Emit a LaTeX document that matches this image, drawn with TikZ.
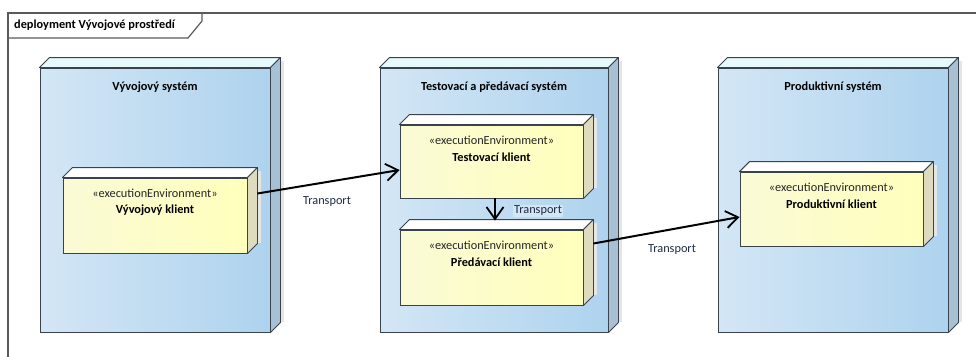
\documentclass[tikz,border=0pt]{standalone}
\usepackage{fontspec}
\setmainfont{Carlito}
\usetikzlibrary{calc,arrows.meta}

\definecolor{framecol}{HTML}{5A5A5A}
\definecolor{edgecol}{HTML}{3A434C}
\definecolor{sysL}{HTML}{D3E6F5}
\definecolor{sysR}{HTML}{AED3EE}
\definecolor{sysTop}{HTML}{E6FAFC}
\definecolor{sysSide}{HTML}{A8C0D3}
\definecolor{envL}{HTML}{FAFAD6}
\definecolor{envR}{HTML}{FFFFBC}
\definecolor{envTop}{HTML}{FFFFFF}
\definecolor{envSide}{HTML}{DEDBBE}
\definecolor{lblbg}{HTML}{D3E6F4}
\definecolor{lbltext}{HTML}{1E2A44}

% top and side faces of a 3D box whose front face is the node #1
\newcommand\boxfaces[4]{%
  \fill[black!10] ($(#1.north east)+(#2+1,-#2+3)$) rectangle ($(#1.south east)+(#2+4,-#2)$);
  \draw[edgecol, line width=0.9pt, fill=#3, line join=round]
    (#1.north west) -- ++(#2,-#2) -- ($(#1.north east)+(#2,-#2)$) -- (#1.north east) -- cycle;
  \draw[edgecol, line width=0.9pt, fill=#4, line join=round]
    (#1.north east) -- ++(#2,-#2) -- ($(#1.south east)+(#2,-#2)$) -- (#1.south east) -- cycle;
}

\newcommand\diafont{\fontsize{12.3}{14}\selectfont}

\tikzset{
  face/.style={draw=edgecol, line width=0.9pt, inner sep=0pt, shading=axis, shading angle=90},
  sysface/.style={face, left color=sysL, right color=sysR},
  envface/.style={face, left color=envL, right color=envR},
  title/.style={font=\diafont\bfseries, text=black},
  stereo/.style={font=\diafont, text=black!85},
  ename/.style={font=\diafont\bfseries, text=black},
  transport/.style={draw=black, line width=2pt, -{Straight Barb[length=12pt,width=17pt,line width=1.8pt]}},
  tlabel/.style={font=\diafont, text=lbltext, inner sep=1pt},
}

\begin{document}
\begin{tikzpicture}[x=1pt,y=-1pt]
\useasboundingbox (0,0) rectangle (976,356);

% diagram frame with its name tab
\draw[framecol, line width=1.4pt] (8,360) -- (8,13) -- (980,13);
\draw[framecol, line width=1.2pt] (8,38) -- (188,38) -- (202,21) -- (202,13);
\node[anchor=west, font=\diafont\bfseries, inner sep=0pt] (frametab) at (14,25.5) {deployment Vývojové prostředí};

% system nodes
\node[sysface, minimum width=230, minimum height=264] (dev) at (155,200) {};
\boxfaces{dev}{10}{sysTop}{sysSide}
\node[sysface, minimum width=228, minimum height=264] (tst) at (494,200) {};
\boxfaces{tst}{10}{sysTop}{sysSide}
\node[sysface, minimum width=230, minimum height=264] (prd) at (833,200) {};
\boxfaces{prd}{10}{sysTop}{sysSide}

\node[title] (devT) at ($(dev.north)+(0,20)$) {Vývojový systém};
\node[title] (tstT) at ($(tst.north)+(0,20)$) {Testovací a předávací systém};
\node[title] (prdT) at ($(prd.north)+(0,20)$) {Produktivní systém};

% execution environments
\node[envface, minimum width=184, minimum height=75] (devk) at (155,215.5) {};
\boxfaces{devk}{10}{envTop}{envSide}
\node[envface, minimum width=183, minimum height=73] (tstk) at (491.5,161.5) {};
\boxfaces{tstk}{10}{envTop}{envSide}
\node[envface, minimum width=183, minimum height=75] (pdk) at (491.5,267.5) {};
\boxfaces{pdk}{10}{envTop}{envSide}
\node[envface, minimum width=183, minimum height=74] (prdk) at (831.5,209) {};
\boxfaces{prdk}{10}{envTop}{envSide}

\foreach \n/\t in {devk/Vývojový klient, tstk/Testovací klient, pdk/Předávací klient, prdk/Produktivní klient}{
  \node[stereo] (\n S) at ($(\n.north)+(0,16)$) {«executionEnvironment»};
  \node[ename] (\n N) at ($(\n.north)+(0,33)$) {\t};
}

% transport connectors
\coordinate (a1s) at ($(devk.east)+(10,-22)$);
\coordinate (a1e) at ($(tstk.west)+(0,8.5)$);
\draw[transport] (a1s) -- (a1e);
\node[tlabel] (l1) at (327,202) {Transport};

\coordinate (a2s) at ($(tstk.south)+(3.5,0)$);
\coordinate (a2e) at ($(pdk.north)+(3.5,-9)$);
\draw[transport] (a2s) -- (a2e);
\node[tlabel, fill=lblbg] (l2) at (538,211) {Transport};

\coordinate (a3s) at ($(pdk.east)+(10,-24)$);
\coordinate (a3e) at ($(prdk.west)+(0,8)$);
\draw[transport] (a3s) -- (a3e);
\node[tlabel] (l3) at (672,250) {Transport};
\end{tikzpicture}
\end{document}
